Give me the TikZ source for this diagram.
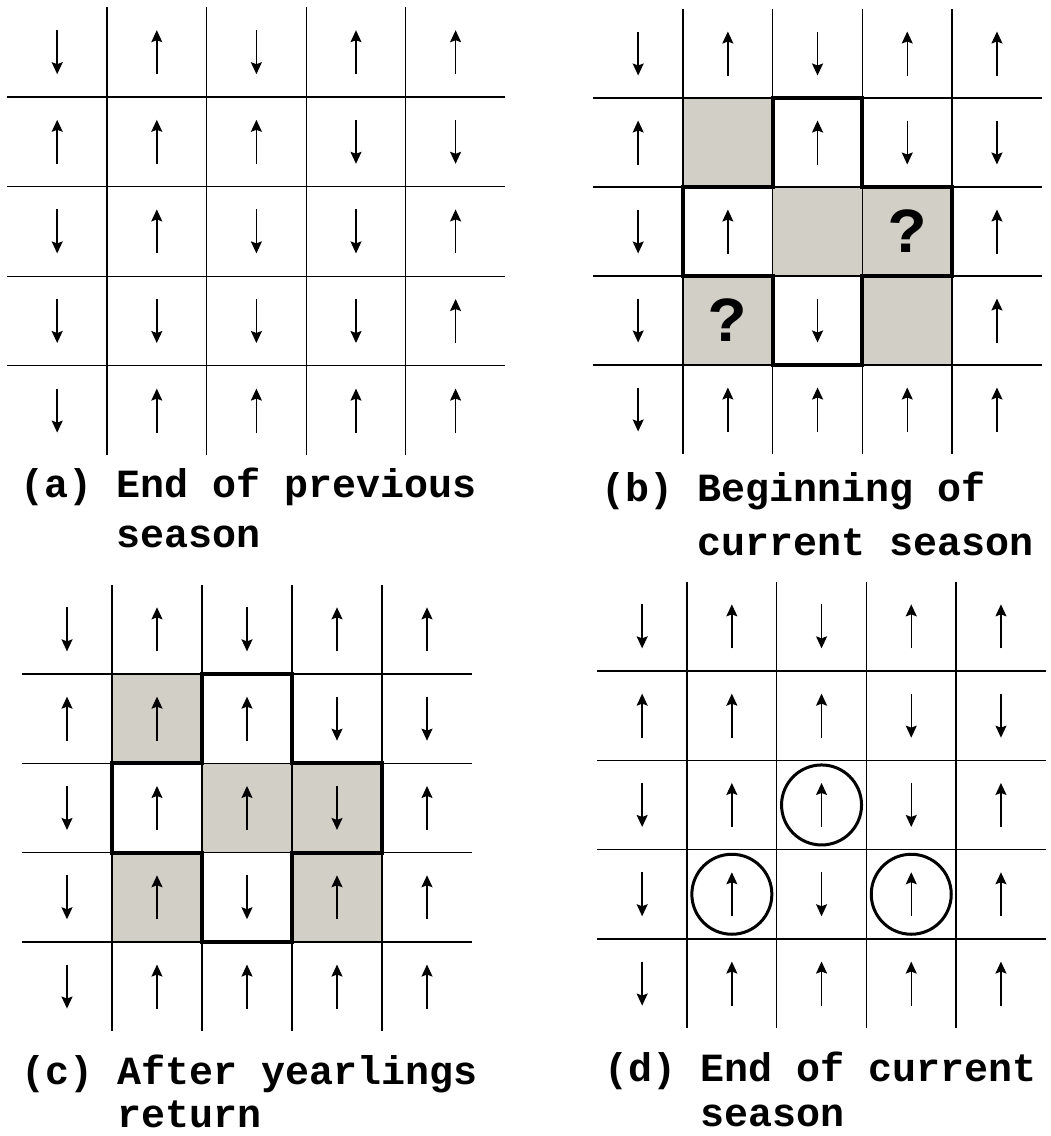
\documentclass[tikz,border=0pt]{standalone}
\usepackage{fontspec}
\setmonofont{Liberation Mono}
\usetikzlibrary{arrows.meta}

\definecolor{patchgray}{RGB}{210,207,199}

\tikzset{
  gridline/.style={line width=1.3pt},
  spin/.style={line width=1.5pt,-{Stealth[length=12pt,width=11pt,inset=2pt]}},
  patch/.style={fill=patchgray},
  border/.style={line width=4pt,line join=miter},
  ring/.style={line width=3pt},
  qmark/.style={font=\fontsize{64}{64}\selectfont\ttfamily\bfseries,inner sep=0pt},
  caption/.style={font=\fontsize{40}{50}\selectfont\ttfamily\bfseries,inner sep=0pt,anchor=base west}
}

\begin{document}
\begin{tikzpicture}[x=1pt,y=-1pt]
    \useasboundingbox (0,0) rectangle (1051,1136);

    % (a) end of previous season
    \begin{scope}[shift={(7.4,7.4)},x=99.6pt,y=-89.6pt]
        \foreach \i in {1,...,4} {
            \draw[gridline] (\i,0)--(\i,5);
            \draw[gridline] (0,\i)--(5,\i);
        }
        \foreach \c/\r in {2/1,4/1,5/1,1/2,2/2,3/2,2/3,5/3,5/4,2/5,3/5,4/5,5/5}
            \draw[spin] ([yshift=-22pt]\c-0.5,\r-0.5) -- ++(0,44pt);
        \foreach \c/\r in {1/1,3/1,4/2,5/2,1/3,3/3,4/3,1/4,2/4,3/4,4/4,1/5}
            \draw[spin] ([yshift=22pt]\c-0.5,\r-0.5) -- ++(0,-44pt);
    \end{scope}

    % (b) beginning of current season
    \begin{scope}[shift={(593.3,9)},x=89.7pt,y=-89pt]
        \foreach \c/\r in {2/2,3/3,4/3,2/4,4/4}
            \fill[patch] (\c-1,\r-1) rectangle (\c,\r);
        \foreach \i in {1,...,4} {
            \draw[gridline] (\i,0)--(\i,5);
            \draw[gridline] (0,\i)--(5,\i);
        }
        \draw[border] (2,1)--(3,1)--(3,2)--(4,2)--(4,3)--(3,3)--(3,4)--(2,4)--(2,3)--(1,3)--(1,2)--(2,2)--cycle;
        \foreach \c/\r in {2/1,4/1,5/1,1/2,3/2,2/3,5/3,5/4,2/5,3/5,4/5,5/5}
            \draw[spin] ([yshift=-22pt]\c-0.5,\r-0.5) -- ++(0,44pt);
        \foreach \c/\r in {1/1,3/1,4/2,5/2,1/3,1/4,3/4,1/5}
            \draw[spin] ([yshift=22pt]\c-0.5,\r-0.5) -- ++(0,-44pt);
        \node[qmark] (qright) at (3.5,2.5) {?};
        \node[qmark] (qleft) at (1.5,3.5) {?};
    \end{scope}

    % (c) after yearlings return
    \begin{scope}[shift={(22,584.7)},x=90pt,y=-89.3pt]
        \foreach \c/\r in {2/2,3/3,4/3,2/4,4/4}
            \fill[patch] (\c-1,\r-1) rectangle (\c,\r);
        \foreach \i in {1,...,4} {
            \draw[gridline] (\i,0)--(\i,5);
            \draw[gridline] (0,\i)--(5,\i);
        }
        \draw[border] (2,1)--(3,1)--(3,2)--(4,2)--(4,3)--(3,3)--(3,4)--(2,4)--(2,3)--(1,3)--(1,2)--(2,2)--cycle;
        \foreach \c/\r in {2/1,4/1,5/1,1/2,2/2,3/2,2/3,3/3,5/3,2/4,4/4,5/4,2/5,3/5,4/5,5/5}
            \draw[spin] ([yshift=-22pt]\c-0.5,\r-0.5) -- ++(0,44pt);
        \foreach \c/\r in {1/1,3/1,4/2,5/2,1/3,4/3,1/4,3/4,1/5}
            \draw[spin] ([yshift=22pt]\c-0.5,\r-0.5) -- ++(0,-44pt);
    \end{scope}

    % (d) end of current season
    \begin{scope}[shift={(597.3,581.7)},x=89.7pt,y=-89.3pt]
        \foreach \i in {1,...,4} {
            \draw[gridline] (\i,0)--(\i,5);
            \draw[gridline] (0,\i)--(5,\i);
        }
        \foreach \c/\r in {2/1,4/1,5/1,1/2,2/2,3/2,2/3,3/3,5/3,2/4,4/4,5/4,2/5,3/5,4/5,5/5}
            \draw[spin] ([yshift=-22pt]\c-0.5,\r-0.5) -- ++(0,44pt);
        \foreach \c/\r in {1/1,3/1,4/2,5/2,1/3,4/3,1/4,3/4,1/5}
            \draw[spin] ([yshift=22pt]\c-0.5,\r-0.5) -- ++(0,-44pt);
        \foreach \c/\r in {3/3,2/4,4/4}
            \draw[ring] (\c-0.5,\r-0.5) circle [radius=40pt];
    \end{scope}

    % captions
    \node[caption] (capa) at (20,497) {(a) End of previous};
    \node[caption] (capaa) at (20,547) {\hphantom{(a) }season};
    \node[caption] (capb) at (601,501) {(b) Beginning of};
    \node[caption] (capbb) at (601,555) {\hphantom{(b) }current season};
    \node[caption] (capc) at (21,1084) {(c) After yearlings};
    \node[caption] (capcc) at (21,1127) {\hphantom{(c) }return};
    \node[caption] (capd) at (604,1081) {(d) End of current};
    \node[caption] (capdd) at (604,1126) {\hphantom{(d) }season};
\end{tikzpicture}
\end{document}
